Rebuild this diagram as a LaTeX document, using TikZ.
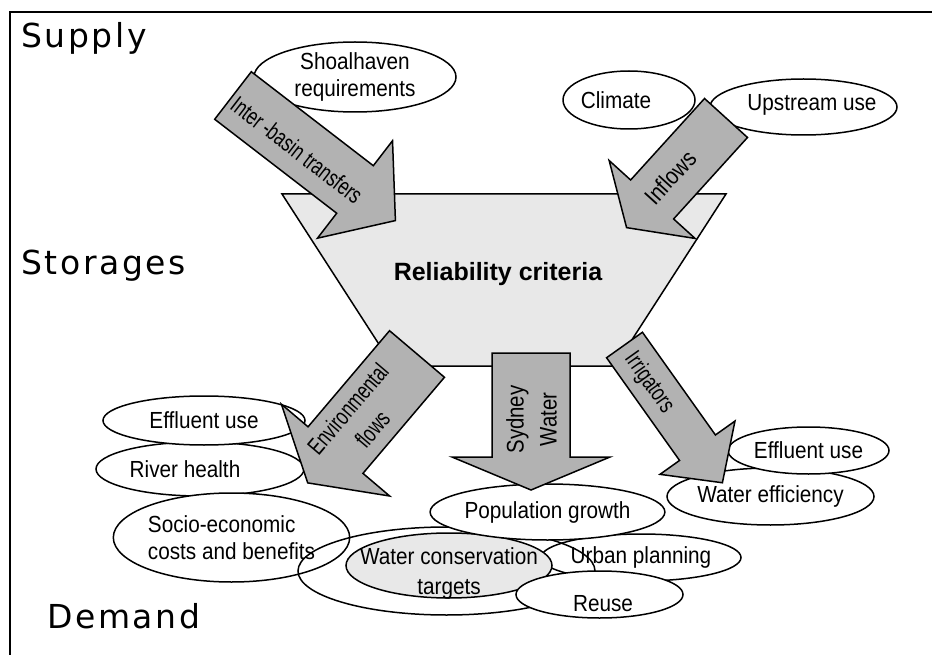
\documentclass[tikz,border=0pt]{standalone}
\usepackage{fontspec}
\setmainfont{Liberation Sans}[FakeStretch=0.89]
\newfontfamily\plainfont{Liberation Sans}
\newfontfamily\narrowfont{Liberation Sans}[FakeStretch=0.72]
\newfontfamily\halfnarrowfont{Liberation Sans}[FakeStretch=0.85]
\newfontfamily\headfont{DejaVu Sans}[LetterSpace=8]
\usetikzlibrary{shapes.geometric}
\definecolor{basingray}{gray}{0.91}
\definecolor{arrowgray}{gray}{0.70}

\tikzset{
  arrowlen/.store in=\arrowlen,
  shaftw/.store in=\shaftw,
  headw/.store in=\headw,
  headlen/.store in=\headlen,
  arrowlen=100, shaftw=20, headw=40, headlen=30,
  flowarrow/.pic={
    \draw[draw=black, fill=arrowgray, line width=1.5pt, line join=miter]
      (0,\shaftw) -- (\arrowlen-\headlen,\shaftw) -- (\arrowlen-\headlen,\headw)
      -- (\arrowlen,0) -- (\arrowlen-\headlen,-\headw) -- (\arrowlen-\headlen,-\shaftw)
      -- (0,-\shaftw) -- cycle;
  }
}

\begin{document}
\begin{tikzpicture}[x=1pt, y=-1pt,
    oval/.style={ellipse, draw, line width=1.5pt, fill=white, inner sep=0pt, align=center,
      font=\fontsize{23.3}{27}\selectfont},
    ovaltext/.style={inner sep=0pt, align=center, font=\fontsize{23.3}{27}\selectfont},
    flowtext/.style={inner sep=0pt, align=center, font=\narrowfont\fontsize{24}{32}\selectfont},
    heading/.style={anchor=base west, inner sep=0pt, font=\headfont\fontsize{33}{40}\selectfont}
]
\useasboundingbox (0,0) rectangle (932,655);
\draw[line width=1.5pt] (10,12) rectangle (950,670);

% headings
\node[heading] (supply) at (21,48) {Supply};
\node[heading] (storages) at (21,275) {Storages};
\node[heading] (demand) at (47,628) {Demand};

% storage basin
\draw[line width=1.5pt, fill=basingray] (282,194) -- (726,194) -- (615,366) -- (393,366) -- cycle;
\node[font=\plainfont\bfseries\fontsize{25}{30}\selectfont] (criteria) at (498,274) {Reliability criteria};

% supply side
\node[oval, minimum width=202, minimum height=70] (shoal) at (355,77) {Shoalhaven\\requirements};
\node[oval, minimum width=132, minimum height=58] (climate) at (629,100) {};
\node[ovaltext] (climatetext) at ([xshift=-13]climate.center) {Climate};
\node[oval, minimum width=187, minimum height=56] (upstream) at (803.5,107) {};
\node[ovaltext] (upstreamtext) at ([xshift=8.5, yshift=2]upstream.center) {Upstream use};

% demand, left
\node[oval, minimum width=208, minimum height=54] (river) at (200,469) {};
\node[ovaltext] (rivertext) at ([xshift=-15]river.center) {River health};
\node[oval, minimum width=202, minimum height=49] (effluentL) at (204,420.5) {Effluent use};
\node[oval, minimum width=225, minimum height=89, align=left] (socio) at (231.5,537.5) {Socio-economic\\costs and benefits};

% demand, centre
\node[oval, minimum width=200, minimum height=47] (urban) at (641,557.5) {Urban planning};
\node[oval, fill=none, minimum width=297, minimum height=88] (urbanring) at (446.5,571) {};
\node[oval, fill=basingray, minimum width=206, minimum height=65] (conserve) at (449,565.5) {};
\node[ovaltext, font=\fontsize{23.3}{30}\selectfont] (conservetext) at ([yshift=-7.5]conserve.center) {Water conservation\\targets};
\node[oval, minimum width=215, minimum height=56] (population) at (547.5,512) {Population growth};
\node[oval, minimum width=167, minimum height=47] (reuse) at (599.5,594.5) {};
\node[ovaltext] (reusetext) at ([xshift=3.5, yshift=-9.5]reuse.center) {Reuse};

% demand, right
\node[oval, minimum width=197, minimum height=57] (efficiency) at (770.5,496.5) {Water efficiency};
\node[oval, minimum width=161, minimum height=47] (effluentR) at (808.5,450.5) {Effluent use};

% flows
\pic[rotate=-37.6, arrowlen=205, shaftw=30, headw=61.5, headlen=51] at (233,95.5) {flowarrow};
\node[flowtext, rotate=-37.6] (transfers) at (297,150) {Inter -basin transfers};
\pic[rotate=-132.2, arrowlen=148, shaftw=29, headw=58, headlen=38] at (726,118) {flowarrow};
\node[flowtext, font=\halfnarrowfont\fontsize{24}{32}\selectfont, rotate=47.8] (inflows) at (670.5,177.5) {Inflows};
\pic[rotate=-130.3, arrowlen=169, shaftw=36, headw=71, headlen=43] at (417,354) {flowarrow};
\node[flowtext, rotate=49.7] (envflows) at (360,419) {Environmental\\flows};
\pic[rotate=-90, arrowlen=137, shaftw=39, headw=79, headlen=33] at (531,353) {flowarrow};
\node[flowtext, font=\halfnarrowfont\fontsize{24}{33}\selectfont, rotate=90] (sydney) at (531.5,419.5) {Sydney\\Water};
\pic[rotate=-54.6, arrowlen=169, shaftw=22, headw=46, headlen=43] at (624.5,345) {flowarrow};
\node[flowtext, rotate=-54.6] (irrigators) at (649,383) {Irrigators};
\end{tikzpicture}
\end{document}
